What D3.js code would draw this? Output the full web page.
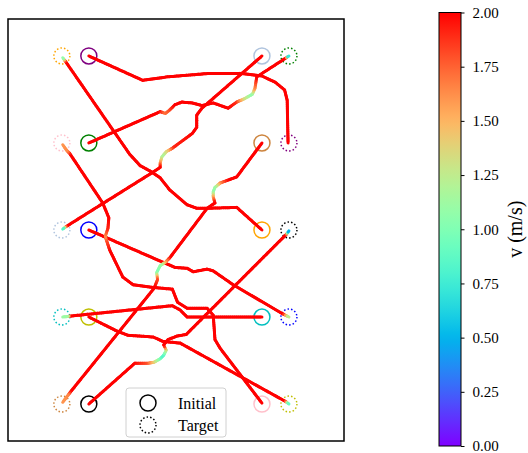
<!DOCTYPE html>
<html>
<head>
<meta charset="utf-8">
<script src="https://cdn.jsdelivr.net/npm/d3@7"></script>
<style>
  body { margin: 0; background: #fff; }
  text { font-family: "Liberation Serif", "Times New Roman", "DejaVu Serif", serif; }
</style>
</head>
<body>
<svg id="chart" width="528" height="453"></svg>
<script>
// agents: purple, green, blue, olive, black, lightsteelblue, peru, orange, teal, pink
const agentColors = ['purple', 'green', 'blue', '#bfbf00', 'black',
  'lightsteelblue', 'peru', 'orange', '#00bfbf', 'pink'];
const initialPos = [[0.32, 4], [0.32, 3], [0.32, 2], [0.32, 1], [0.32, 0],
  [2.31, 4], [2.31, 3], [2.31, 2], [2.31, 1], [2.31, 0]];
const targetPos = [[2.62, 3], [2.62, 4], [2.62, 1], [2.62, 0], [2.62, 2],
  [0.01, 2], [0.01, 0], [0.01, 4], [0.01, 1], [0.01, 3]];

// trajectories as [x, y, v]
const trajPurple = [[0.32, 4.00, 2], [0.94, 3.72, 2], [1.22, 3.76, 2], [1.71, 3.80, 2], [2.06, 3.80, 2],
  [2.31, 3.77, 2], [2.46, 3.70, 2], [2.57, 3.61, 2], [2.60, 3.49, 2], [2.61, 3.00, 2]];
const trajGreen = [[0.32, 3.00, 2], [1.14, 3.36, 2], [1.20, 3.34, 1.7], [1.25, 3.38, 1.8], [1.31, 3.44, 2],
  [1.39, 3.47, 2], [1.51, 3.46, 2], [1.62, 3.43, 2], [1.75, 3.46, 2], [1.92, 3.40, 2], [2.02, 3.47, 1.9],
  [2.11, 3.51, 1.35], [2.20, 3.56, 1.05], [2.23, 3.63, 1.6], [2.25, 3.76, 2], [2.59, 3.98, 2], [2.62, 4.00, 0.3]];
const trajBlue = [[0.32, 2.00, 2], [1.17, 1.63, 2], [1.31, 1.57, 2], [1.45, 1.56, 2], [1.52, 1.52, 2],
  [1.68, 1.55, 2], [1.75, 1.53, 2], [1.98, 1.37, 2], [2.56, 1.03, 2], [2.62, 1.00, 1.1]];
const trajOlive = [[0.32, 1.00, 2], [0.64, 0.84, 2], [0.77, 0.79, 2], [1.06, 0.77, 2], [1.17, 0.72, 2],
  [1.37, 0.70, 2], [2.58, 0.03, 2], [2.62, 0.00, 0.7]];
const trajBlack = [[0.32, 0.00, 2], [0.85, 0.47, 2], [1.00, 0.47, 1.8], [1.07, 0.48, 1.45], [1.14, 0.52, 1.0],
  [1.18, 0.56, 0.8], [1.21, 0.62, 1.2], [1.18, 0.68, 2], [1.23, 0.74, 2], [1.33, 0.78, 2], [1.44, 0.80, 2],
  [2.59, 1.95, 2], [2.62, 1.99, 0.2]];
const trajLightblue = [[2.31, 4.00, 2], [1.62, 3.40, 2], [1.56, 3.32, 2], [1.56, 3.18, 2], [1.51, 3.11, 2],
  [1.28, 2.94, 1.9], [1.21, 2.90, 1.4], [1.16, 2.84, 1.15], [1.14, 2.77, 1.6], [1.14, 2.72, 2], [1.05, 2.66, 2],
  [0.33, 2.21, 2], [0.06, 2.04, 2], [0.02, 2.01, 0.6]];
const trajPeru = [[2.31, 3.00, 2], [2.02, 2.61, 2], [1.91, 2.57, 2], [1.83, 2.54, 1.7], [1.77, 2.49, 1.15],
  [1.75, 2.44, 1.05], [1.75, 2.38, 1.5], [1.77, 2.31, 2], [1.68, 2.25, 2], [1.25, 1.68, 2], [1.20, 1.63, 1.6],
  [1.14, 1.59, 1.1], [1.10, 1.51, 1.0], [1.11, 1.43, 1.8], [1.07, 1.33, 2], [0.11, 0.14, 2], [0.08, 0.10, 1.65],
  [0.02, 0.02, 1.6]];
const trajOrange = [[2.31, 2.00, 2], [2.02, 2.26, 2], [1.71, 2.25, 2], [1.56, 2.25, 2], [1.45, 2.29, 2],
  [1.25, 2.46, 2], [1.14, 2.60, 2], [1.02, 2.68, 2], [0.91, 2.74, 2], [0.79, 2.87, 2], [0.05, 3.94, 2],
  [0.02, 3.98, 0.9]];
const trajTeal = [[2.31, 1.00, 2], [1.45, 1.00, 2], [1.37, 1.08, 2], [1.28, 1.13, 2], [0.10, 1.01, 2],
  [0.075, 1.005, 1.15], [0.02, 1.00, 1.1]];
const trajPink = [[2.31, 0.01, 2], [1.83, 0.64, 2], [1.77, 0.74, 2], [1.75, 1.02, 2], [1.68, 1.10, 2],
  [1.45, 1.10, 2], [1.34, 1.17, 2], [1.28, 1.32, 2], [1.06, 1.34, 2], [0.83, 1.37, 2], [0.71, 1.46, 2],
  [0.56, 1.77, 2], [0.52, 1.89, 1.8], [0.51, 1.93, 1.6], [0.54, 2.02, 1.9], [0.55, 2.14, 2], [0.48, 2.31, 2],
  [0.10, 2.88, 2], [0.07, 2.91, 1.65], [0.02, 2.98, 1.6]];
const trajectories = [trajPurple, trajGreen, trajBlue, trajOlive, trajBlack,
  trajLightblue, trajPeru, trajOrange, trajTeal, trajPink];

const cbTicks = [0, 0.25, 0.5, 0.75, 1, 1.25, 1.5, 1.75, 2];
const legendLabels = ['Initial', 'Target'];

// matplotlib "rainbow" colormap
function rainbow(t) {
  const r = Math.min(1, Math.abs(2 * t - 0.5));
  const g = Math.max(0, Math.sin(Math.PI * t));
  const b = Math.max(0, Math.cos(Math.PI * t / 2));
  return d3.rgb(r * 255, g * 255, b * 255).formatHex();
}

const serif = '"Liberation Serif", "Times New Roman", serif';
const svg = d3.select('#chart');
const frame = { left: 8, right: 344, top: 19, bottom: 441 };
const x = d3.scaleLinear().domain([-0.609, 3.253]).range([frame.left, frame.right]);
const y = d3.scaleLinear().domain([-0.425, 4.425]).range([frame.bottom, frame.top]);
const vNorm = d3.scaleLinear().domain([0, 2]).range([0, 1]).clamp(true);

// circles first, trajectories on top
const circles = svg.append('g');
circles.selectAll('circle.init')
  .data(initialPos)
  .enter().append('circle')
    .attr('cx', d => x(d[0]))
    .attr('cy', d => y(d[1]))
    .attr('r', 8)
    .attr('fill', 'none')
    .attr('stroke', (d, i) => agentColors[i])
    .attr('stroke-width', 1.5);
circles.selectAll('circle.tgt')
  .data(targetPos)
  .enter().append('circle')
    .attr('cx', d => x(d[0]))
    .attr('cy', d => y(d[1]))
    .attr('r', 8)
    .attr('fill', 'none')
    .attr('stroke', (d, i) => agentColors[i])
    .attr('stroke-width', 1.5)
    .attr('stroke-dasharray', '1.5 2.1');

// split each segment into short pieces so the speed colour blends
const lines = svg.append('g')
    .attr('stroke-width', 3)
    .attr('stroke-linecap', 'round');
trajectories.forEach(traj => {
  for (let i = 0; i < traj.length - 1; i++) {
    const a = traj[i], b = traj[i + 1];
    const x0 = x(a[0]), y0 = y(a[1]), x1 = x(b[0]), y1 = y(b[1]);
    const n = Math.max(1, Math.ceil(Math.hypot(x1 - x0, y1 - y0) / 2));
    for (let k = 0; k < n; k++) {
      const t0 = k / n, t1 = (k + 1) / n, tm = (k + 0.5) / n;
      const v = a[2] + (b[2] - a[2]) * tm;
      lines.append('line')
        .attr('x1', x0 + (x1 - x0) * t0).attr('y1', y0 + (y1 - y0) * t0)
        .attr('x2', x0 + (x1 - x0) * t1).attr('y2', y0 + (y1 - y0) * t1)
        .attr('stroke', rainbow(vNorm(v)));
    }
  }
});

// axes frame
svg.append('rect')
    .attr('x', frame.left).attr('y', frame.top)
    .attr('width', frame.right - frame.left)
    .attr('height', frame.bottom - frame.top)
    .attr('fill', 'none')
    .attr('stroke', 'black')
    .attr('stroke-width', 1.5);

// legend
const lg = svg.append('g').attr('transform', 'translate(126,388)');
lg.append('rect')
    .attr('width', 100).attr('height', 49).attr('rx', 3)
    .attr('fill', 'white').attr('fill-opacity', 0.8)
    .attr('stroke', '#d0d0d0');
legendLabels.forEach((lab, i) => {
  lg.append('circle')
      .attr('cx', 22).attr('cy', 15 + i * 22).attr('r', 8)
      .attr('fill', 'none').attr('stroke', 'black').attr('stroke-width', 1.5)
      .attr('stroke-dasharray', i === 1 ? '1.5 2.1' : null);
  lg.append('text')
      .attr('x', 52).attr('y', 20.5 + i * 22)
      .style('font-family', serif)
      .style('font-size', '16px')
      .text(lab);
});

// colorbar
const cb = { x: 439, w: 22, top: 12.5, bottom: 446 };
const cbScale = d3.scaleLinear().domain([0, 2]).range([cb.bottom, cb.top]);
const grad = svg.append('defs').append('linearGradient')
    .attr('id', 'cbgrad')
    .attr('x1', 0).attr('y1', 1).attr('x2', 0).attr('y2', 0);
d3.range(0, 1.0001, 0.02).forEach(t => {
  grad.append('stop').attr('offset', t).attr('stop-color', rainbow(t));
});
svg.append('rect')
    .attr('x', cb.x).attr('y', cb.top)
    .attr('width', cb.w).attr('height', cb.bottom - cb.top)
    .attr('fill', 'url(#cbgrad)')
    .attr('stroke', 'black').attr('stroke-width', 1);
const cbAxis = svg.append('g')
    .attr('transform', `translate(${cb.x + cb.w},0)`)
    .call(d3.axisRight(cbScale).tickValues(cbTicks).tickFormat(d3.format('.2f'))
      .tickSizeOuter(0).tickSize(3.5).tickPadding(8));
cbAxis.select('.domain').remove();
cbAxis.selectAll('text')
    .style('font-family', serif)
    .style('font-size', '15px')
    .attr('fill', 'black');
svg.append('text')
    .attr('transform', `translate(522,${(cb.top + cb.bottom) / 2}) rotate(-90)`)
    .attr('text-anchor', 'middle')
    .style('font-family', serif)
    .style('font-size', '20px')
    .text('v (m/s)');
</script>
</body>
</html>
